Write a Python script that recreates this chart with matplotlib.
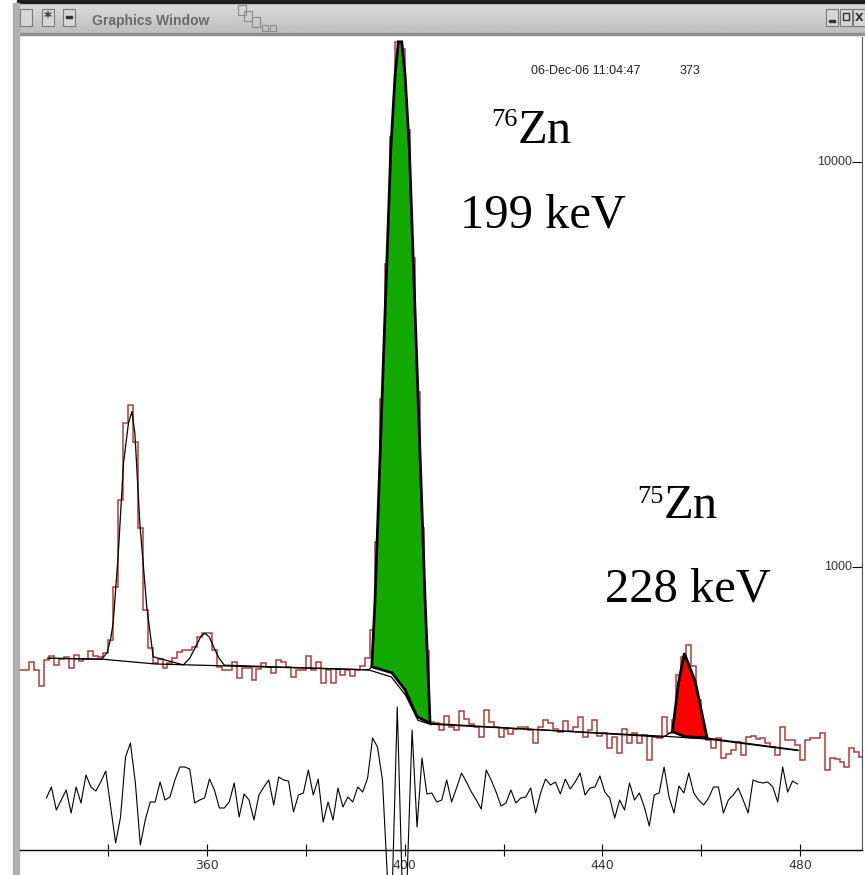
import matplotlib.pyplot as plt
import numpy as np
from matplotlib.patches import Rectangle, Polygon
from matplotlib.transforms import offset_copy
from matplotlib.ticker import NullLocator

# ---- data ----
first_channel = 322
counts = [
    557, 557, 583, 557, 509, 589, 603, 573, 594, 600,   # 322-331
    563, 606, 587, 592, 621, 603, 598, 612, 660, 894,   # 332-341
    1464, 2266, 2512, 2038, 1248, 783, 631, 579, 592, 562,  # 342-351
    578, 595, 618, 624, 624, 633, 670, 688, 688, 624,   # 352-361
    567, 557, 557, 584, 531, 562, 562, 526, 559, 580,   # 362-371
    567, 546, 589, 584, 567, 536, 557, 557, 601, 557,   # 372-381
    584, 518, 557, 518, 559, 541, 555, 538, 557, 569,   # 382-391
    595, 700, 1150, 2600, 5600, 11500, 19800, 19000, 12000, 5800,  # 392-401
    2700, 1250, 620, 415, 411, 396, 428, 403, 396, 442,  # 402-411
    421, 409, 403, 381, 444, 415, 403, 381, 399, 387,   # 412-421
    399, 403, 402, 396, 367, 403, 419, 411, 399, 392,   # 422-431
    417, 394, 403, 425, 381, 396, 419, 382, 388, 357,   # 432-441
    381, 347, 399, 367, 388, 367, 385, 334, 381, 379,   # 442-451
    425, 388, 420, 540, 600, 640, 570, 470, 395, 374,   # 452-461
    357, 378, 337, 345, 353, 370, 343, 381, 382, 376,   # 462-471
    378, 367, 360, 343, 402, 374, 374, 364, 334, 374,   # 472-481
    378, 378, 388, 315, 337, 335, 330, 321, 357, 350,   # 482-491
    340, 360,                                           # 492-493
]

# fitted curve (background + peaks)
fit_channels = [327.8, 338.7, 339.8, 340.5, 341.0, 342.0, 343.1, 344.1, 344.8, 345.4,
                346.4, 347.8, 349.1, 355.2, 356.5, 357.9, 358.8, 359.6, 360.5, 361.3,
                362.4, 363.5, 392.7,
                393.34, 394.01, 395.63, 397.19, 398.06, 398.72, 399.41, 400.08,
                400.95, 402.51, 404.13, 405.14,
                452.3, 454.2, 455.4, 456.6, 458.8, 461.2, 479.6]
fit_counts = [595, 592, 615, 665, 727, 1060, 1806, 2266, 2420, 2140,
              1284, 798, 600, 573, 595, 642, 675, 686, 670, 636,
              596, 572, 557,
              567, 829, 3070, 10710, 16370, 19800, 19800, 16370,
              10710, 3070, 829, 411,
              380, 392, 516, 612, 521, 378, 353]

# step background under the 199 keV peak
step_channels = [393.34, 397.4, 400.1, 402.5, 405.14]
step_counts = [567, 548, 497, 427, 411]

# background line
bg_channels = [327.8, 338.7, 349.5, 392.7, 397.3, 400.2, 402.7, 405.14, 452.3, 461.2, 479.6]
bg_counts = [595, 592, 576, 557, 535, 482, 418, 409, 382, 376, 352]

# 228 keV peak area
red_channels = [454.2, 455.4, 456.6, 458.8, 461.2, 456.8]
red_counts = [392, 516, 612, 521, 378, 381]

# residuals, one per channel starting at 327
residual_first = 327
residuals = [
    -0.1, 1.0, -1.3, -0.3, 0.7, -1.6, 1.0, -0.6, 2.2, 1.0,
    0.6, 1.5, 2.6, -1.0, -4.6, -2.0, 4.0, 5.4, 1.4, -4.8,
    -2.3, -0.5, -0.5, 1.5, -0.3, 0.0, 1.7, 3.0, 3.0, 2.8,
    -0.6, -0.3, -0.1, 1.8, 0.7, -1.1, -1.1, -0.5, 1.4, -2.0,
    0.3, -0.3, -2.3, 0.2, 1.0, 1.7, -0.8, 2.0, 1.7, 1.6,
    -1.5, 0.2, 0.4, 2.7, 0.2, 1.8, -2.5, -0.5, -2.3, 0.9,
    -1.0, 0.0, -0.5, 1.0, 0.5, 1.9, 5.9, 5.0, 1.7,
    -8.0, -9.0, 9.0, -9.0, -8.0, 6.7, -3.0, 3.9,
    0.3, 0.4, -0.5, -0.3, 1.7, -0.5, 0.9, 2.4, 1.5, 0.5,
    -0.3, -1.2, 2.7, 1.7, 0.5, -0.9, -0.6, 0.7, -0.6, -0.1,
    0.0, 0.9, -1.6, 0.4, 1.8, 1.2, 1.5, 0.3, 1.8, 0.8,
    1.5, 2.4, 0.2, 0.9, 1.0, 2.1, 0.5, -0.1, -2.1, -0.3,
    -1.3, 1.4, -0.3, 0.4, -1.0, -2.9, 0.2, 0.4, 3.0, 0.0,
    -1.6, 1.1, 0.4, 2.4, 0.4, -0.3, -0.8, -0.1, 1.0, 1.0,
    -1.6, -0.3, 0.2, 0.9, -0.3, -1.6, 1.7, 1.5, 1.4, 1.5,
    1.0, -0.5, 3.0, 0.5, 1.6, 1.3,
]

x_major = [360, 400, 440, 480]
x_minor = [340, 380, 420, 460]
y_major = [1000, 10000]

# ---- figure ----
W, H = 865, 875
fig = plt.figure(figsize=(W / 100, H / 100), dpi=100)
fig.patch.set_facecolor('white')

# window chrome in pixel coordinates
chrome = fig.add_axes([0, 0, 1, 1], zorder=0)
grad = np.linspace(0.86, 0.74, 40).reshape(-1, 1)
chrome.imshow(grad, cmap='gray', vmin=0, vmax=1, extent=[17, W, 34, 3], aspect='auto')
chrome.add_patch(Rectangle((17, 0), W - 17, 3, color='#1e1e1e'))
chrome.add_patch(Rectangle((17, 33), W - 17, 2, color='#8e8e8e'))
chrome.add_patch(Rectangle((13, 3), 6, H - 3, color='#b0b0b0'))
for bx in [20, 42, 63, 826, 840, 853]:
    chrome.add_patch(Rectangle((bx, 9), 12, 17, facecolor='#d6d6d6', edgecolor='#7a7a7a', lw=0.8))
chrome.text(48, 18, '*', ha='center', va='center', fontsize=11, fontweight='bold', color='#333333')
chrome.add_patch(Rectangle((66, 16), 6, 2, color='#333333'))
chrome.add_patch(Rectangle((829, 20), 6, 2, color='#333333'))
chrome.add_patch(Rectangle((843, 13), 6, 7, facecolor='none', edgecolor='#333333', lw=1))
chrome.text(859, 18, 'X', ha='center', va='center', fontsize=8, fontweight='bold', color='#333333')
for sx, sy, sw, sh in [(238, 5, 8, 10), (244, 11, 8, 10), (252, 17, 8, 10), (262, 25, 6, 6), (270, 25, 6, 6)]:
    chrome.add_patch(Rectangle((sx, sy), sw, sh, facecolor='none', edgecolor='#8a8a8a', lw=0.8))
chrome.text(92, 21, 'Graphics Window', ha='left', va='center', fontsize=10,
            fontweight='bold', color='#6a6a6a', family='Liberation Sans')

# annotations
serif = 'Liberation Serif'
chrome.text(518, 126, '76', ha='right', va='baseline', fontsize=19, family=serif)
chrome.text(518, 143, 'Zn', ha='left', va='baseline', fontsize=35, family=serif)
chrome.text(460, 228, '199 keV', ha='left', va='baseline', fontsize=35, family=serif)
chrome.text(664, 503, '75', ha='right', va='baseline', fontsize=19, family=serif)
chrome.text(664, 518, 'Zn', ha='left', va='baseline', fontsize=35, family=serif)
chrome.text(605, 602, '228 keV', ha='left', va='baseline', fontsize=35, family=serif)
chrome.text(531, 71, '06-Dec-06 11:04:47', ha='left', va='center', fontsize=9,
            family='Liberation Sans', color='#222222')
chrome.text(680, 71, '373', ha='left', va='center', fontsize=9,
            family='Liberation Sans', color='#222222')
chrome.set_xlim(0, W)
chrome.set_ylim(H, 0)
chrome.axis('off')

# spectrum axes
ax = fig.add_axes([20 / W, 1 - 850 / H, 842 / W, 813 / H], zorder=1)
ax.patch.set_alpha(0)
ax.set_yscale('log')
edges = np.arange(first_channel, first_channel + len(counts) + 1)
ax.stairs(counts, edges, baseline=None, color='#b23c3c', lw=1.1, zorder=2)

green_x = [c for c in fit_channels if 393.3 <= c <= 405.2] + step_channels[::-1]
green_y = [v for c, v in zip(fit_channels, fit_counts) if 393.3 <= c <= 405.2] + step_counts[::-1]
ax.add_patch(Polygon(list(zip(green_x, green_y)), closed=True, facecolor='#12aa00',
                     edgecolor='black', lw=2.0, zorder=3))
ax.add_patch(Polygon(list(zip(red_channels, red_counts)), closed=True, facecolor='#ff0000',
                     edgecolor='black', lw=2.0, zorder=3))
ax.plot(bg_channels, bg_counts, color='black', lw=0.9, zorder=4)
ax.plot(fit_channels, fit_counts, color='black', lw=0.9, zorder=4)

ax.set_xlim(322.15, 492.55)
ax.set_ylim(200, 20350)
ax.set_xticks(x_major)
ax.set_xticks(x_minor, minor=True)
ax.set_xticklabels([str(v) for v in x_major])
ax.tick_params(axis='x', which='both', direction='inout', length=9, width=0.8,
               labelsize=9, pad=2, labelcolor='#333333')
ax.yaxis.tick_right()
ax.set_yticks(y_major)
ax.yaxis.set_minor_locator(NullLocator())
ax.tick_params(axis='y', which='major', direction='in', length=7, width=0.8,
               labelright=False, labelleft=False)
lab_tr = offset_copy(ax.get_yaxis_transform(), fig=fig, x=-10, y=0, units='dots')
for v in y_major:
    ax.text(1, v, str(v), transform=lab_tr, ha='right', va='center', fontsize=9,
            family='Liberation Sans', color='#333333')
for side in ['left', 'top']:
    ax.spines[side].set_visible(False)
ax.spines['bottom'].set_linewidth(1.0)
ax.spines['right'].set_linewidth(0.8)
ax.spines['right'].set_color('#555555')

# residual axes on top
axr = fig.add_axes([20 / W, 1 - 850 / H, 842 / W, 813 / H], zorder=2)
axr.patch.set_alpha(0)
res_x = np.arange(len(residuals)) + residual_first + 0.5
axr.plot(res_x, residuals, color='black', lw=0.8, clip_on=False)
axr.set_xlim(322.15, 492.55)
axr.set_ylim(-5.3, 76.0)
axr.axis('off')

fig.savefig('out.png', dpi=100)
